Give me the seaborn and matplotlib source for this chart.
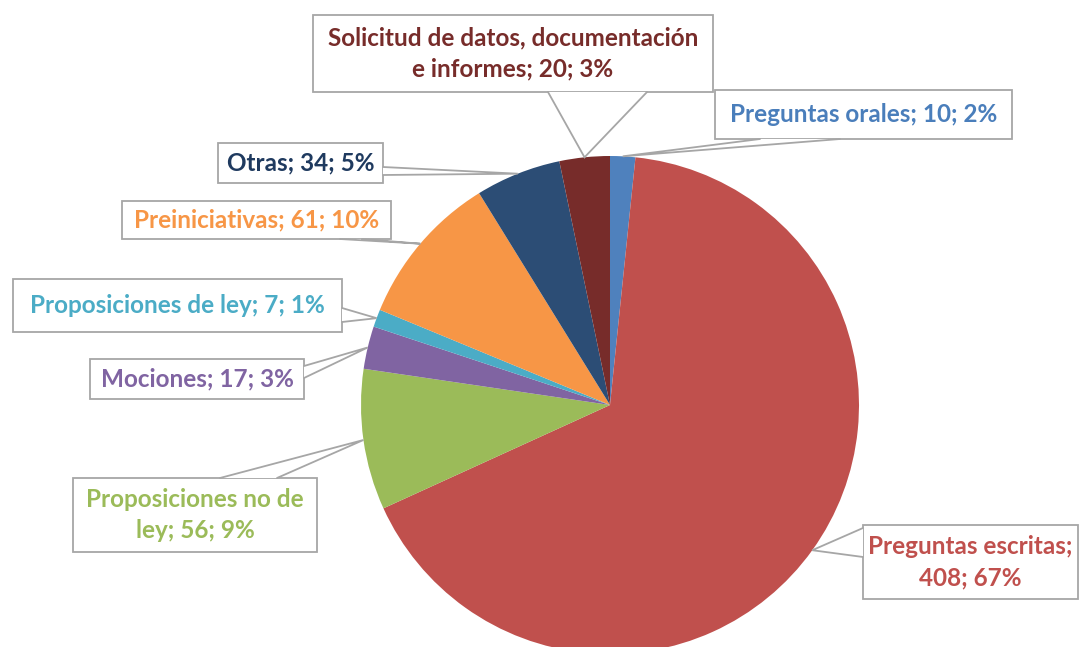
import numpy as np
import matplotlib
matplotlib.use("Agg")
import matplotlib.pyplot as plt
import seaborn as sns
from matplotlib.patches import Rectangle, Polygon

# Datos
categorias = ["Preguntas orales", "Preguntas escritas", "Proposiciones no de ley",
              "Mociones", "Proposiciones de ley", "Preiniciativas", "Otras",
              "Solicitud de datos, documentación e informes"]
valores = [10, 408, 56, 17, 7, 61, 34, 20]
porcentajes = ["2%", "67%", "9%", "3%", "1%", "10%", "5%", "3%"]
nombres_etiqueta = ["Preguntas orales", "Preguntas escritas;\n", "Proposiciones no de\nley",
                    "Mociones", "Proposiciones de ley", "Preiniciativas", "Otras",
                    "Solicitud de datos, documentación\ne informes"]
colores = ["#4F81BD", "#C0504D", "#9BBB59", "#8064A2", "#4BACC6", "#F79646", "#2C4D75", "#772C2A"]
colores_texto = ["#4A7EBB", "#C0504D", "#9BBB59", "#8064A2", "#4BACC6", "#F79646", "#1F3A5F", "#772C2A"]

# Layout (pixeles de la imagen)
CX, CY, R = 610, 405, 249
W, H = 1080, 647
cajas = [(715, 90, 1012, 139), (863, 525, 1078, 599), (73, 478, 317, 552), (90, 359, 304, 399),
         (13, 279, 342, 332), (122, 201, 391, 239), (218, 143, 383, 183), (313, 15, 713, 92)]
bases = [((760, 139), (840, 139)), ((863, 528), (863, 557)), ((220, 478), (277, 478)),
         ((304, 366), (304, 378)), ((342, 308), (342, 322)), ((340, 239), (362, 239)),
         ((383, 167), (383, 175)), ((548, 92), (647, 92))]


def to_data(px, py):
    return ((px - CX) / R, (CY - py) / R)


sns.set_style("white")
plt.rcParams["font.family"] = ["Lato", "DejaVu Sans"]

fig = plt.figure(figsize=(W / 100, H / 100), dpi=100)
ax = fig.add_axes([0, 0, 1, 1])

wedges, _ = ax.pie(valores, colors=colores, startangle=90, counterclock=False,
                   radius=1, wedgeprops=dict(linewidth=0))

ax.set_xlim((0 - CX) / R, (W - CX) / R)
ax.set_ylim((CY - H) / R, (CY - 0) / R)
ax.set_aspect("equal")
ax.axis("off")

for i, w in enumerate(wedges):
    ang = np.deg2rad((w.theta1 + w.theta2) / 2)
    tip = (np.cos(ang), np.sin(ang))
    x0, y0, x1, y1 = cajas[i]
    a, b = to_data(x0, y1)
    c, d = to_data(x1, y0)
    ax.add_patch(Rectangle((a, b), c - a, d - b, facecolor="white",
                           edgecolor="#A6A6A6", linewidth=1.3, zorder=3))
    p1 = to_data(*bases[i][0])
    p2 = to_data(*bases[i][1])
    ax.add_patch(Polygon([p1, tip, p2], closed=True, facecolor="white",
                         edgecolor="none", zorder=4))
    ax.plot([p1[0], tip[0], p2[0]], [p1[1], tip[1], p2[1]], color="#A6A6A6",
            linewidth=1.3, zorder=4, solid_joinstyle="miter")
    nombre = nombres_etiqueta[i]
    sep = "" if nombre.endswith("\n") else "; "
    texto = f"{nombre}{sep}{valores[i]}; {porcentajes[i]}"
    ax.text((a + c) / 2, (b + d) / 2, texto, ha="center", va="center",
            multialignment="center", fontsize=17.5, fontweight="bold",
            color=colores_texto[i], linespacing=1.45, zorder=5)

fig.savefig("out.png", dpi=100)
